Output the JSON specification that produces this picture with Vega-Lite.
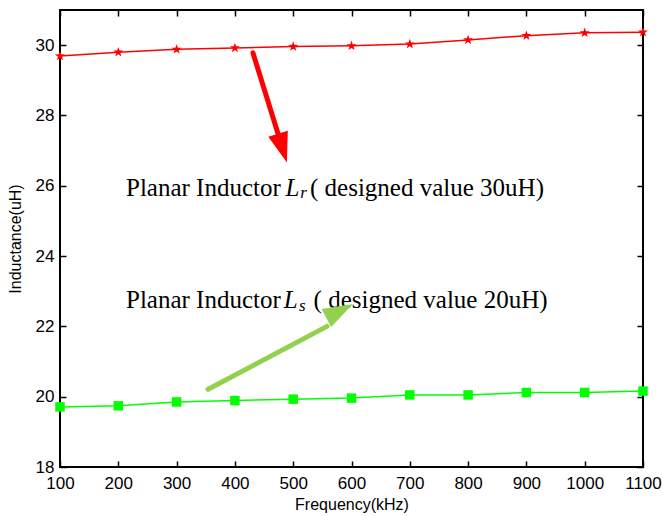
{
  "$schema": "https://vega.github.io/schema/vega-lite/v6.json",
  "width": 583,
  "height": 457,
  "autosize": "none",
  "padding": {"left": 60, "top": 10, "right": 20, "bottom": 49},
  "background": "white",
  "config": {
    "view": {"stroke": "black", "strokeWidth": 2},
    "axis": {
      "domain": false,
      "tickColor": "black",
      "tickWidth": 1.5,
      "tickSize": 6,
      "offset": -6,
      "grid": false,
      "labelColor": "black",
      "labelFont": "Liberation Sans",
      "labelFontSize": 17,
      "titleFont": "Liberation Sans",
      "titleFontSize": 16,
      "titleFontWeight": "normal",
      "titleColor": "black"
    }
  },
  "datasets": {
    "lr": [
      {"freq": 100, "L": 29.69},
      {"freq": 200, "L": 29.80},
      {"freq": 300, "L": 29.88},
      {"freq": 400, "L": 29.92},
      {"freq": 500, "L": 29.96},
      {"freq": 600, "L": 29.98},
      {"freq": 700, "L": 30.03},
      {"freq": 800, "L": 30.15},
      {"freq": 900, "L": 30.27},
      {"freq": 1000, "L": 30.35},
      {"freq": 1100, "L": 30.37}
    ],
    "ls": [
      {"freq": 100, "L": 19.71},
      {"freq": 200, "L": 19.74},
      {"freq": 300, "L": 19.85},
      {"freq": 400, "L": 19.89},
      {"freq": 500, "L": 19.93},
      {"freq": 600, "L": 19.96},
      {"freq": 700, "L": 20.05},
      {"freq": 800, "L": 20.05},
      {"freq": 900, "L": 20.12},
      {"freq": 1000, "L": 20.12},
      {"freq": 1100, "L": 20.16}
    ],
    "shaftR": [{"x": 431, "y": 29.78, "x2": 474, "y2": 27.48}],
    "shaftS": [{"x": 354, "y": 20.21, "x2": 558, "y2": 22.0}],
    "headR": [{"x": 481.6, "y": 27.07}],
    "headS": [{"x": 579.6, "y": 22.44}],
    "textMain": [
      {"x": 213.2, "y": 25.72, "text": "Planar Inductor"},
      {"x": 528.8, "y": 25.72, "text": "( designed value 30uH)"},
      {"x": 213.2, "y": 22.52, "text": "Planar Inductor"},
      {"x": 535, "y": 22.52, "text": "( designed value 20uH)"}
    ],
    "textSym": [
      {"x": 487, "y": 25.72, "text": "L"},
      {"x": 484, "y": 22.52, "text": "L"}
    ],
    "textSub": [
      {"x": 512, "y": 25.66, "text": "r"},
      {"x": 510, "y": 22.44, "text": "s"}
    ]
  },
  "resolve": {"scale": {"x": "independent", "y": "independent"}},
  "layer": [
    {
      "layer": [
        {
          "data": {"name": "lr"},
          "mark": {"type": "line", "color": "#ff0000", "strokeWidth": 1.5},
          "encoding": {
            "x": {
              "field": "freq", "type": "quantitative",
              "scale": {"domain": [100, 1100], "nice": false, "zero": false},
              "axis": {"orient": "bottom", "values": [100, 200, 300, 400, 500, 600, 700, 800, 900, 1000, 1100], "format": "d", "title": "Frequency(kHz)", "labelPadding": 8, "titlePadding": 5, "labelFlush": false}
            },
            "y": {
              "field": "L", "type": "quantitative",
              "scale": {"domain": [18, 31], "nice": false, "zero": false},
              "axis": {"orient": "left", "values": [18, 20, 22, 24, 26, 28, 30], "format": "d", "title": "Inductance(uH)", "labelPadding": 6, "titlePadding": 12, "labelFlush": false}
            }
          }
        },
        {
          "data": {"name": "ls"},
          "mark": {"type": "line", "color": "#00ff00", "strokeWidth": 1.5},
          "encoding": {
            "x": {"field": "freq", "type": "quantitative"},
            "y": {"field": "L", "type": "quantitative"}
          }
        },
        {
          "data": {"name": "shaftR"},
          "mark": {"type": "rule", "strokeWidth": 5, "strokeCap": "round", "color": "#ff0000"},
          "encoding": {
            "x": {"field": "x", "type": "quantitative"},
            "y": {"field": "y", "type": "quantitative"},
            "x2": {"field": "x2"},
            "y2": {"field": "y2"}
          }
        },
        {
          "data": {"name": "shaftS"},
          "mark": {"type": "rule", "strokeWidth": 5, "strokeCap": "round", "color": "#92d050"},
          "encoding": {
            "x": {"field": "x", "type": "quantitative"},
            "y": {"field": "y", "type": "quantitative"},
            "x2": {"field": "x2"},
            "y2": {"field": "y2"}
          }
        },
        {
          "data": {"name": "textMain"},
          "mark": {"type": "text", "align": "left", "baseline": "alphabetic", "font": "Liberation Serif", "fontSize": 25, "color": "black"},
          "encoding": {
            "x": {"field": "x", "type": "quantitative"},
            "y": {"field": "y", "type": "quantitative"},
            "text": {"field": "text"}
          }
        },
        {
          "data": {"name": "textSym"},
          "mark": {"type": "text", "align": "left", "baseline": "alphabetic", "font": "Liberation Serif", "fontStyle": "italic", "fontSize": 25, "color": "black"},
          "encoding": {
            "x": {"field": "x", "type": "quantitative"},
            "y": {"field": "y", "type": "quantitative"},
            "text": {"field": "text"}
          }
        },
        {
          "data": {"name": "textSub"},
          "mark": {"type": "text", "align": "left", "baseline": "alphabetic", "font": "Liberation Serif", "fontStyle": "italic", "fontSize": 17, "color": "black"},
          "encoding": {
            "x": {"field": "x", "type": "quantitative"},
            "y": {"field": "y", "type": "quantitative"},
            "text": {"field": "text"}
          }
        },
        {
          "data": {"name": "headR"},
          "mark": {"type": "point", "shape": "M0,-1L0.68,1L-0.68,1Z", "filled": true, "size": 900, "opacity": 1, "color": "#ff0000", "angle": 162.8},
          "encoding": {
            "x": {"field": "x", "type": "quantitative"},
            "y": {"field": "y", "type": "quantitative"}
          }
        },
        {
          "data": {"name": "headS"},
          "mark": {"type": "point", "shape": "M0,-1L0.68,1L-0.68,1Z", "filled": true, "size": 900, "opacity": 1, "color": "#92d050", "angle": 62.2},
          "encoding": {
            "x": {"field": "x", "type": "quantitative"},
            "y": {"field": "y", "type": "quantitative"}
          }
        },
        {
          "data": {"name": "ls"},
          "mark": {"type": "point", "shape": "square", "filled": true, "color": "#00ff00", "size": 90, "opacity": 1},
          "encoding": {
            "x": {"field": "freq", "type": "quantitative"},
            "y": {"field": "L", "type": "quantitative"}
          }
        },
        {
          "data": {"name": "lr"},
          "mark": {"type": "point", "shape": "M0,-1L0.235,-0.324L0.951,-0.309L0.38,0.124L0.588,0.809L0,0.4L-0.588,0.809L-0.38,0.124L-0.951,-0.309L-0.235,-0.324Z", "filled": true, "color": "#ff0000", "size": 110, "opacity": 1},
          "encoding": {
            "x": {"field": "freq", "type": "quantitative"},
            "y": {"field": "L", "type": "quantitative"}
          }
        }
      ]
    },
    {
      "data": {"name": "lr"},
      "mark": {"type": "point", "opacity": 0},
      "encoding": {
        "x": {
          "field": "freq", "type": "quantitative",
          "scale": {"domain": [100, 1100], "nice": false, "zero": false},
          "axis": {"orient": "top", "values": [100, 200, 300, 400, 500, 600, 700, 800, 900, 1000, 1100], "labels": false, "title": null}
        },
        "y": {
          "field": "L", "type": "quantitative",
          "scale": {"domain": [18, 31], "nice": false, "zero": false},
          "axis": {"orient": "right", "values": [18, 20, 22, 24, 26, 28, 30], "labels": false, "title": null}
        }
      }
    }
  ]
}
